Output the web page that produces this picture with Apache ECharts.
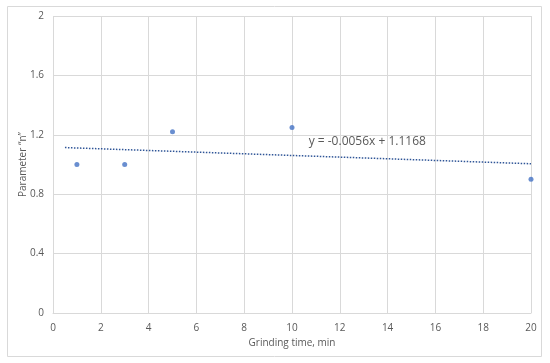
<!DOCTYPE html>
<html><head><meta charset="utf-8">
<script src="https://cdn.jsdelivr.net/npm/echarts@6/dist/echarts.min.js"></script>
<style>html,body{margin:0;padding:0;background:#fff}#c{width:550px;height:363px}</style>
</head><body><div id="c"></div>
<script>
var timeMin = [1, 3, 5, 10, 20];
var paramN = [1.0, 1.0, 1.22, 1.25, 0.9];
var trendX = [0.5, 20];
var trendY = [1.114, 1.005];
var trendLabel = 'y = -0.0056x + 1.1168';
var xTicks = [0, 2, 4, 6, 8, 10, 12, 14, 16, 18, 20];
var yTicks = [0, 0.4, 0.8, 1.2, 1.6, 2];

var chart = echarts.init(document.getElementById('c'));
var font = 'Open Sans';
chart.setOption({
  animation: false,
  textStyle: {fontFamily: font},
  graphic: [{type: 'rect', shape: {x: 7.5, y: 6.5, width: 534, height: 350}, style: {fill: 'none', stroke: '#d9d9d9', lineWidth: 1}, z: -1}],
  grid: {left: 53, right: 19, top: 16, bottom: 50},
  xAxis: {
    type: 'value', min: 0, max: 20, interval: 2,
    name: 'Grinding time, min', nameLocation: 'middle', nameGap: 24,
    nameTextStyle: {color: '#595959', fontSize: 10, fontFamily: font},
    axisLine: {lineStyle: {color: '#d9d9d9'}},
    axisTick: {show: false},
    axisLabel: {color: '#595959', fontSize: 10, margin: 10},
    splitLine: {show: true, lineStyle: {color: '#d9d9d9'}}
  },
  yAxis: {
    type: 'value', min: 0, max: 2, interval: 0.4,
    name: 'Parameter \u201cn\u201d', nameLocation: 'middle', nameGap: 25, nameMoveOverlap: false,
    nameTextStyle: {color: '#595959', fontSize: 10, fontFamily: font},
    axisLine: {show: false},
    axisTick: {show: false},
    axisLabel: {color: '#595959', fontSize: 10, margin: 9},
    splitLine: {show: true, lineStyle: {color: '#d9d9d9'}}
  },
  series: [
    {type: 'line', data: trendX.map(function (x, i) { return [x, trendY[i]]; }),
     showSymbol: false, symbol: 'none', lineStyle: {color: '#2f5597', width: 1.5, type: [1.5, 1.5]},
     markPoint: {symbol: 'rect', symbolSize: 1, itemStyle: {color: 'rgba(0,0,0,0)'}, data: [{coord: [13.15, 1.152]}],
       label: {show: true, position: 'inside', align: 'center', verticalAlign: 'middle', formatter: trendLabel, color: '#595959', fontSize: 12, fontFamily: font}}},
    {type: 'scatter', data: timeMin.map(function (x, i) { return [x, paramN[i]]; }),
     symbol: 'circle', symbolSize: 5, itemStyle: {color: '#4472c4'}}
  ]
});
</script></body></html>
